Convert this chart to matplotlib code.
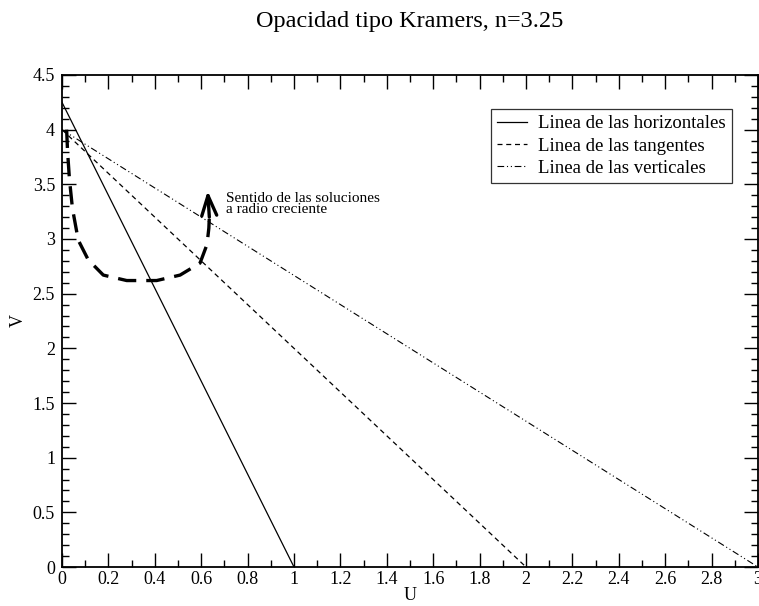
import matplotlib
matplotlib.use("Agg")
import matplotlib.pyplot as plt
import numpy as np
from matplotlib.ticker import MultipleLocator

plt.rcParams["font.family"] = ["Liberation Serif", "DejaVu Serif"]
plt.rcParams["mathtext.fontset"] = "stix"

# rectas limite (extremos sobre los ejes)
horiz_u = [0.0, 1.0]
horiz_v = [4.25, 0.0]
tang_u = [0.0, 2.0]
tang_v = [4.0, 0.0]
vert_u = [0.0, 3.0]
vert_v = [4.0, 0.0]

# solucion numerica (radio creciente)
sol_u = [0.02, 0.024, 0.032, 0.045, 0.07, 0.113, 0.178, 0.279, 0.408, 0.509, 0.595, 0.625, 0.633, 0.635]
sol_v = [4.0, 3.8, 3.55, 3.28, 2.99, 2.81, 2.67, 2.62, 2.62, 2.67, 2.78, 2.95, 3.1, 3.2]
arrow_tip = (0.628, 3.44)

fig = plt.figure(figsize=(7.59, 6.06), dpi=100)
ax = fig.add_axes([62 / 759, 39 / 606, 696 / 759, 492 / 606])

ax.plot(horiz_u, horiz_v, color="black", lw=0.9, label="Linea de las horizontales")
ax.plot(tang_u, tang_v, color="black", lw=0.9, dashes=(4, 3), label="Linea de las tangentes")
ax.plot(vert_u, vert_v, color="black", lw=0.8, dashes=(6, 2.5, 1, 2.5, 1, 2.5),
        label="Linea de las verticales")

ax.plot(sol_u, sol_v, color="black", lw=2.4, dashes=(5.5, 3))
ax.annotate("", xy=arrow_tip, xytext=(sol_u[-1], sol_v[-1]),
            arrowprops=dict(arrowstyle="->,head_length=1.2,head_width=0.45",
                            mutation_scale=12, color="black", lw=2.4,
                            shrinkA=0, shrinkB=0))
ax.text(0.705, 3.43, "Sentido de las soluciones\na radio creciente",
        fontsize=11, va="top", ha="left", linespacing=0.78)

ax.set_xlim(0, 3)
ax.set_ylim(0, 4.5)
ax.xaxis.set_minor_locator(MultipleLocator(0.1))
ax.yaxis.set_minor_locator(MultipleLocator(0.1))
ax.set_xticks(np.arange(0, 3.01, 0.2))
ax.set_xticklabels(["0", "0.2", "0.4", "0.6", "0.8", "1", "1.2", "1.4", "1.6", "1.8",
                    "2", "2.2", "2.4", "2.6", "2.8", "3"])
ax.set_yticks(np.arange(0, 4.51, 0.5))
ax.set_yticklabels(["0", "0.5", "1", "1.5", "2", "2.5", "3", "3.5", "4", "4.5"])
ax.tick_params(which="both", direction="in", top=True, right=True, labelsize=13, pad=3)
ax.tick_params(axis="y", pad=5)
ax.tick_params(which="major", length=10, width=1.0)
ax.tick_params(which="minor", length=5, width=1.0)
for s in ax.spines.values():
    s.set_linewidth(1.3)

ax.set_xlabel("U", fontsize=13, labelpad=-1)
ax.set_ylabel("V", fontsize=13, labelpad=4)
fig.text(410 / 759, 1 - 21 / 606, "Opacidad tipo Kramers, n=3.25", fontsize=17.5,
         ha="center", va="center")

leg = ax.legend(loc="upper right", bbox_to_anchor=(0.962, 0.93), fontsize=13.5,
                frameon=True, fancybox=False, handlelength=1.6, handletextpad=0.6,
                borderpad=0.3, labelspacing=0.28, borderaxespad=0)
leg.get_frame().set_edgecolor("black")
leg.get_frame().set_linewidth(0.9)

fig.savefig("out.png", dpi=100)
